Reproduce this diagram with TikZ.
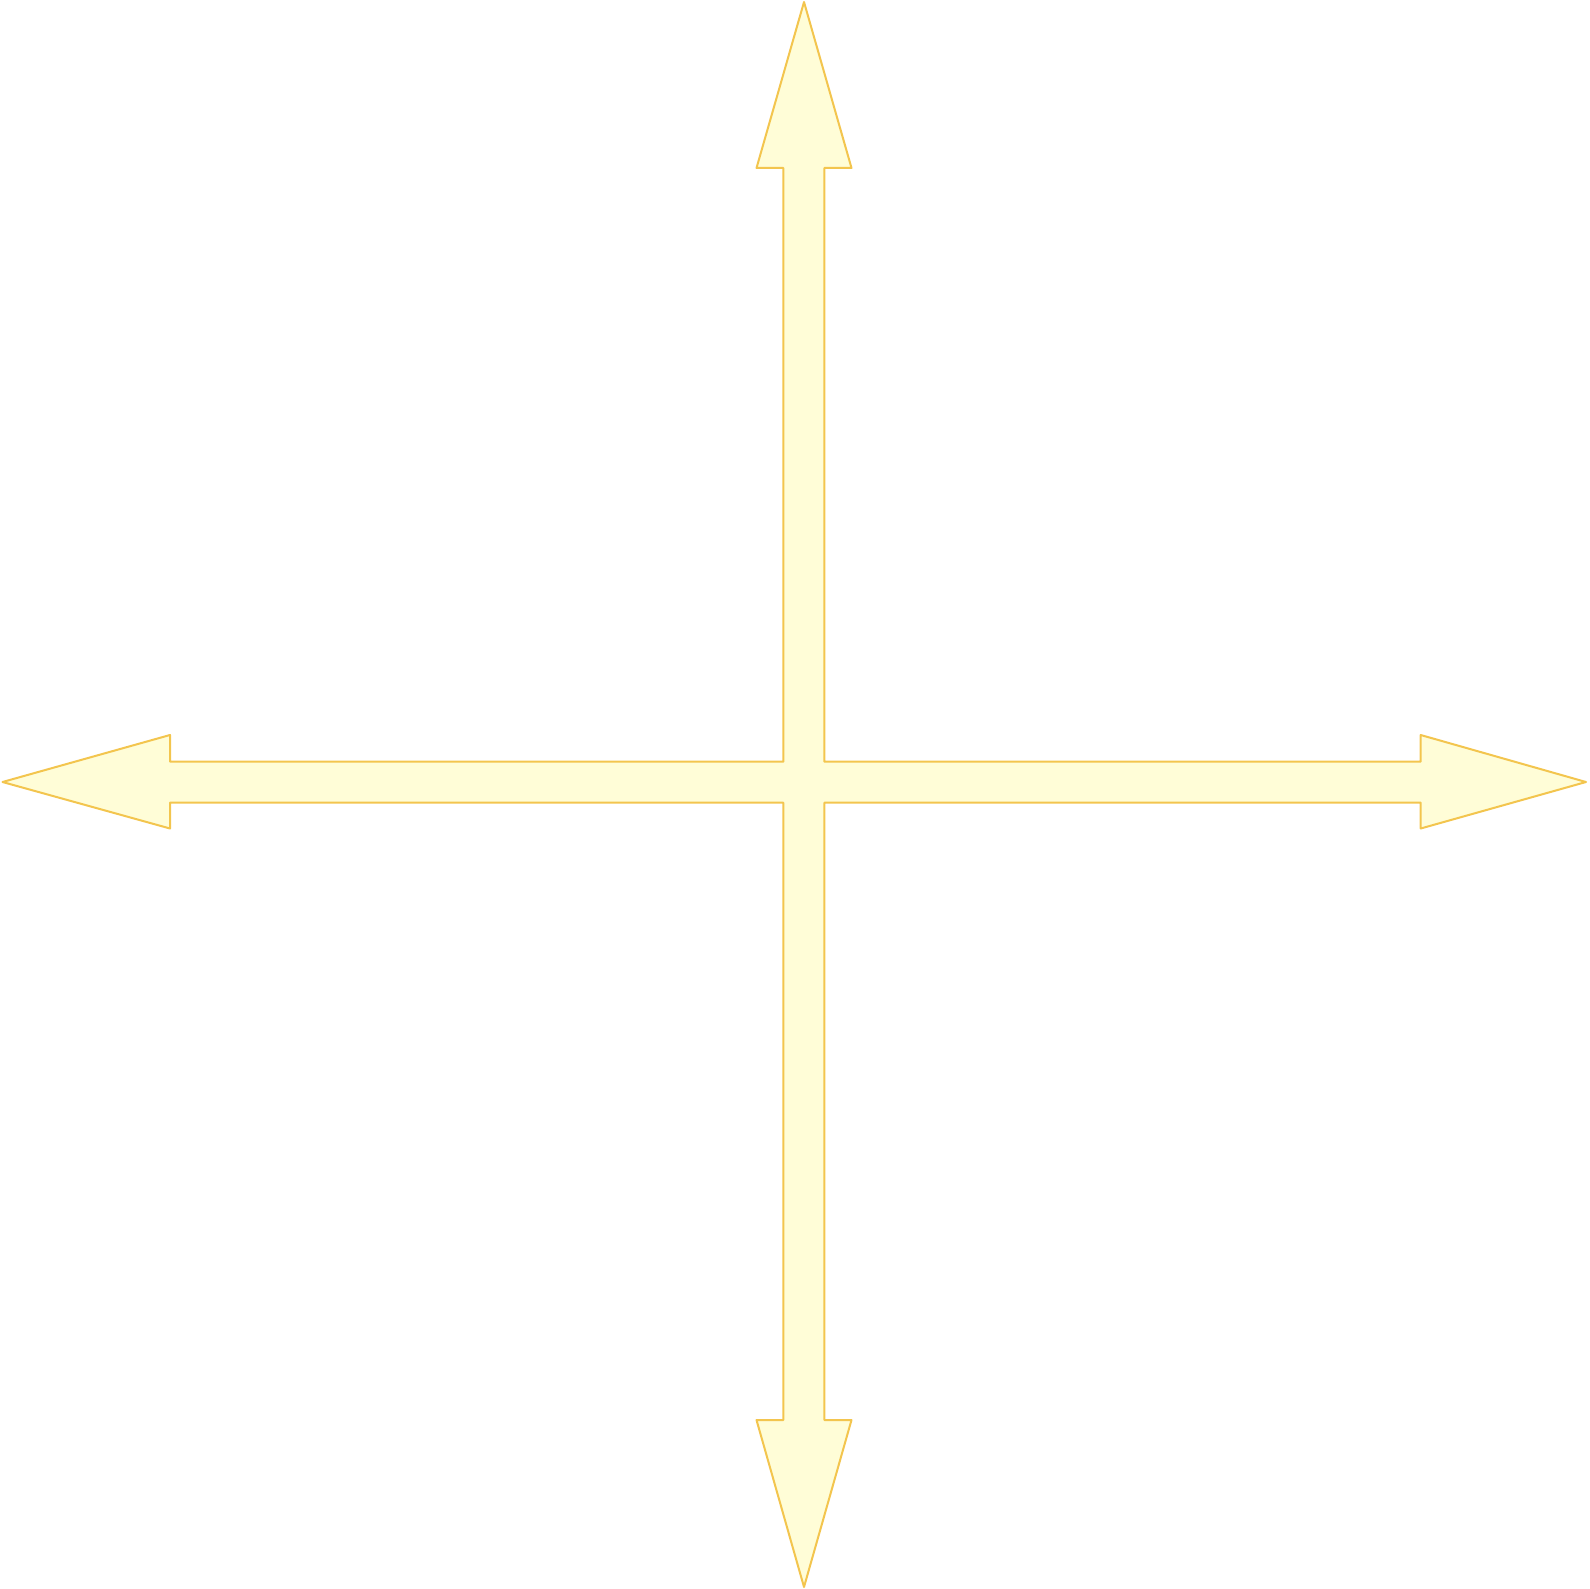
\documentclass[tikz,border=0pt]{standalone}
\usepackage{xcolor}
\definecolor{crossfill}{RGB}{255,253,215}
\definecolor{crossline}{RGB}{243,197,78}

\begin{document}
\begin{tikzpicture}[
    x=1pt, y=-1pt,
    quadarrow/.style={draw=crossline, fill=crossfill, line width=2pt, line join=round}
]
\useasboundingbox (0,0) rectangle (1589,1589);

% Four-way arrow, drawn as one outline
\draw[quadarrow]
    (804,2) -- (851.5,168) -- (824.3,168) -- (824.3,761.7)
    -- (1420.7,761.7) -- (1420.7,735) -- (1586,782) -- (1420.7,828.5) -- (1420.7,802.7)
    -- (824.3,802.7) -- (824.3,1420) -- (851.5,1420) -- (804,1587) -- (756.5,1420) -- (783.3,1420)
    -- (783.3,802.7) -- (170,802.7) -- (170,828.5) -- (2.5,782) -- (170,735) -- (170,761.7)
    -- (783.3,761.7) -- (783.3,168) -- (756.5,168) -- cycle;
\end{tikzpicture}
\end{document}
